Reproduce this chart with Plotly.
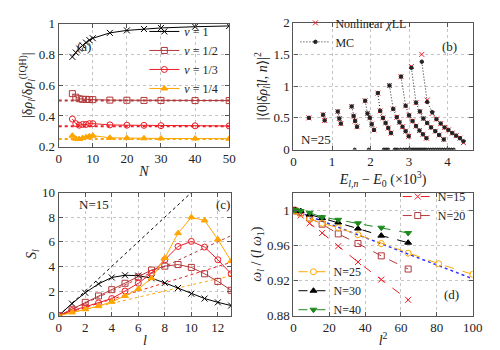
import plotly.graph_objects as go

FONT = "Liberation Serif, DejaVu Serif, serif"

# ---------------- panel (a): density ratio vs system size N
N_sizes = [4, 5, 6, 7, 8, 9, 10, 15, 20, 25, 30, 40, 50]
ratio_nu1 = [0.784, 0.812, 0.838, 0.858, 0.877, 0.893, 0.905, 0.940, 0.956, 0.965, 0.972, 0.980, 0.985]
ratio_nu2 = [0.545, 0.522, 0.512, 0.508, 0.508, 0.507, 0.506, 0.503, 0.502, 0.501, 0.501, 0.500, 0.500]
ratio_nu3 = [0.380, 0.350, 0.340, 0.345, 0.345, 0.350, 0.350, 0.342, 0.340, 0.339, 0.337, 0.336, 0.335]
ratio_nu4 = [0.272, 0.252, 0.250, 0.256, 0.262, 0.268, 0.272, 0.258, 0.256, 0.255, 0.254, 0.253, 0.252]
N_span = [0, 50]
level_nu2 = [0.5, 0.5]
level_nu3 = [0.333, 0.333]
level_nu4 = [0.25, 0.25]

# ---------------- panel (b): matrix elements vs excitation energy (N=25)
mc_E = [0.40, None,
        0.77, 0.81, None,
        1.15, 1.19, 1.23, None,
        1.51, 1.56, 1.60, 1.65, None,
        1.86, 1.92, 1.98, 2.03, 2.09, None,
        2.19, 2.25, 2.32, 2.39, 2.46, 2.53, None,
        2.49, 2.59, 2.68, 2.75, 2.83, 2.91, 2.99, None,
        2.79, 2.91, 3.00, 3.09, 3.18, 3.27, 3.36, 3.45, None,
        3.06, 3.18, 3.28, 3.37, 3.47, 3.57, 3.68, 3.78, 3.90, None,
        3.33, 3.47, 3.60, 3.71, 3.82, 3.92, 4.02, 4.12, 4.22, 4.32, 4.41]
mc_w = [0.50, None,
        0.55, 0.46, None,
        0.60, 0.49, 0.41, None,
        0.68, 0.53, 0.45, 0.36, None,
        0.77, 0.57, 0.50, 0.40, 0.31, None,
        0.89, 0.61, 0.50, 0.42, 0.34, 0.26, None,
        1.01, 0.64, 0.51, 0.43, 0.36, 0.29, 0.21, None,
        1.15, 0.69, 0.54, 0.45, 0.37, 0.30, 0.24, 0.18, None,
        1.29, 0.74, 0.60, 0.49, 0.42, 0.35, 0.29, 0.23, 0.16, None,
        1.385, 0.75, 0.59, 0.48, 0.41, 0.35, 0.31, 0.26, 0.22, 0.18, 0.13]
mc_zero_E = [1.59, 1.95, 2.34, 2.38, 2.42, 2.46, 2.62, 2.66, 2.70, 2.78, 2.86, 2.92,
             2.98, 3.04, 3.08, 3.12, 3.16, 3.20, 3.24, 3.28, 3.32, 3.36, 3.40, 3.44,
             3.50, 3.56, 3.62, 3.68, 3.74, 3.80, 3.86, 3.92, 3.98, 4.04, 4.10, 4.16]
mc_zero_w = [0.0] * len(mc_zero_E)
chi_E = [0.40, 0.77, 0.81, 1.15, 1.19, 1.23, 1.51, 1.56, 1.60, 1.65,
         1.86, 1.92, 1.98, 2.03, 2.09, 2.19, 2.25, 2.32, 2.39, 2.46, 2.53,
         2.49, 2.59, 2.68, 2.75, 2.83, 2.91, 2.99,
         2.79, 2.91, 3.00, 3.09, 3.18, 3.27, 3.36, 3.45,
         3.06, 3.18, 3.28, 3.37, 3.47, 3.57, 3.68, 3.78, 3.90,
         3.33, 3.47, 3.60, 3.71, 3.82, 3.92, 4.02, 4.12, 4.22, 4.32, 4.41]
chi_w = [0.50, 0.55, 0.46, 0.60, 0.49, 0.41, 0.68, 0.53, 0.45, 0.36,
         0.77, 0.57, 0.50, 0.40, 0.31, 0.89, 0.61, 0.50, 0.42, 0.34, 0.26,
         1.01, 0.64, 0.51, 0.43, 0.36, 0.29, 0.21,
         1.15, 0.69, 0.54, 0.45, 0.37, 0.30, 0.24, 0.18,
         1.31, 0.74, 0.60, 0.49, 0.42, 0.35, 0.29, 0.23, 0.16,
         1.50, 0.78, 0.57, 0.48, 0.41, 0.35, 0.31, 0.26, 0.22, 0.18, 0.11]

# ---------------- panel (c): entanglement S_l (N=15)
l_vals = [0, 1, 2, 3, 4, 5, 6, 7, 8, 9, 10, 11, 12, 13]
S_nu1 = [0, 0.98, 1.86, 2.58, 3.10, 3.28, 3.25, 3.04, 2.66, 2.25, 1.78, 1.39, 1.08, 0.82]
S_nu2 = [0, 0.52, 1.08, 1.60, 2.11, 2.63, 3.14, 3.70, 4.02, 4.15, 3.92, 3.40, 2.78, 2.06]
S_nu3 = [0, 0.41, 0.72, 1.03, 1.39, 2.00, 2.63, 3.45, 4.54, 5.62, 6.03, 5.57, 4.54, 3.40]
S_nu4 = [0, 0.26, 0.52, 0.77, 1.13, 1.60, 2.16, 3.04, 4.69, 6.70, 7.99, 7.73, 6.19, 4.43]
ref_l = [0, 13]
ref_nu1 = [0, 13]
ref_nu2 = [0, 6.5]
ref_nu3 = [0, 4.33]
ref_nu4 = [0, 3.25]

# ---------------- panel (d): normalised frequencies vs l^2
l2_short = [0, 1, 4, 9, 16, 25, 36, 49, 64]
l2_long = [0, 1, 4, 9, 16, 25, 36, 49, 64, 81, 100]
om_N15 = [1, 0.998, 0.994, 0.985, 0.974, 0.959, 0.941, 0.921, 0.898]
om_N20 = [1, 0.999, 0.997, 0.991, 0.984, 0.973, 0.962, 0.948, 0.933]
om_N25 = [1, 0.999, 0.996, 0.990, 0.985, 0.980, 0.972, 0.962, 0.951, 0.939, 0.927]
om_N30 = [1, 0.9998, 0.999, 0.995, 0.991, 0.986, 0.979, 0.971, 0.963]
om_N40 = [1, 0.9999, 0.999, 0.997, 0.992, 0.989, 0.985, 0.980, 0.974]
fit_l2 = [0, 100]
fit_om = [1.0, 0.922]

BLACK = "#000000"
DARKRED = "#b3393b"
RED = "#ee1c25"
ORANGE = "#ffa500"
GREEN = "#1e8a1e"
BLUE = "#3333ff"
TEXT = "#222222"

traces = []


def line(x, y, color, ax, name=None, marker=None, msize=6, dash="solid", width=1,
         mode="lines+markers", legend=None, show=False):
    mk = dict(symbol=marker or "circle", size=msize, color=color,
              line=dict(color=color, width=1))
    return go.Scatter(x=x, y=y, mode=mode, name=name, xaxis="x" + ax, yaxis="y" + ax,
                      line=dict(color=color, width=width, dash=dash), marker=mk,
                      showlegend=show, legend=legend, cliponaxis=True)


# panel (a)
traces += [
    line(N_span, level_nu2, DARKRED, "", mode="lines", dash="3px,3px", width=2),
    line(N_span, level_nu3, RED, "", mode="lines", dash="3px,3px", width=2),
    line(N_span, level_nu4, ORANGE, "", mode="lines", dash="3px,3px", width=2),
    line(N_sizes, ratio_nu1, BLACK, "", "<i>ν</i> = 1", "x-thin", 6, legend="legend", show=True),
    line(N_sizes, ratio_nu2, DARKRED, "", "<i>ν</i> = 1/2", "square-open", 6, legend="legend", show=True),
    line(N_sizes, ratio_nu3, RED, "", "<i>ν</i> = 1/3", "circle-open", 6, legend="legend", show=True),
    line(N_sizes, ratio_nu4, ORANGE, "", "<i>ν</i> = 1/4", "triangle-up", 6, legend="legend", show=True),
]

# panel (b)
traces += [
    line(chi_E, chi_w, RED, "2", "Nonlinear <i>χ</i>LL", "x-thin", 5, mode="markers",
         legend="legend2", show=True),
    line(mc_E, mc_w, TEXT, "2", "MC", "circle", 3.5, dash="1px,2px", width=1,
         legend="legend2", show=True),
    line(mc_zero_E, mc_zero_w, TEXT, "2", mode="markers", marker="circle", msize=3),
]

# panel (c)
traces += [
    line(ref_l, ref_nu1, BLACK, "3", mode="lines", dash="dot", width=1),
    line(ref_l, ref_nu2, DARKRED, "3", mode="lines", dash="dot", width=1),
    line(ref_l, ref_nu3, RED, "3", mode="lines", dash="dot", width=1),
    line(ref_l, ref_nu4, ORANGE, "3", mode="lines", dash="dot", width=1),
    line(l_vals, S_nu1, BLACK, "3", marker="x-thin", msize=6),
    line(l_vals, S_nu2, DARKRED, "3", marker="square-open", msize=6),
    line(l_vals, S_nu3, RED, "3", marker="circle-open", msize=6),
    line(l_vals, S_nu4, ORANGE, "3", marker="triangle-up", msize=6),
]

# panel (d)
traces += [
    line(fit_l2, fit_om, BLUE, "4", mode="lines", dash="dot", width=1.5),
    line(l2_short, om_N15, RED, "4", "N=15", "x-thin", 6, dash="dash", legend="legend3", show=True),
    line(l2_short, om_N20, DARKRED, "4", "N=20", "square-open", 6, dash="dash", legend="legend3", show=True),
    line(l2_long, om_N25, ORANGE, "4", "N=25", "circle-open", 6, dash="dash", legend="legend4", show=True),
    line(l2_short, om_N30, BLACK, "4", "N=30", "triangle-up", 6, dash="dash", legend="legend4", show=True),
    line(l2_short, om_N40, GREEN, "4", "N=40", "triangle-down", 6, dash="dash", legend="legend4", show=True),
]

fig = go.Figure(data=traces)

W, H = 500, 350


def px(x):
    return x / W


def py(y):
    return 1 - y / H


def axis(domain, rng, dtick, title, anchor, standoff=2):
    return dict(domain=domain, range=rng, dtick=dtick, tick0=rng[0], anchor=anchor,
                showgrid=True, gridcolor="#c4c4c4", griddash="dot", gridwidth=1,
                zeroline=False, showline=True, linecolor="#555555", linewidth=1.2,
                mirror="allticks", ticks="inside", ticklen=4, tickcolor="#555555",
                tickfont=dict(family=FONT, size=13, color=TEXT),
                title=dict(text=title, font=dict(family=FONT, size=14, color=TEXT), standoff=standoff))


legend_base = dict(bgcolor="rgba(0,0,0,0)", borderwidth=0, font=dict(family=FONT, size=12, color=TEXT),
                   tracegroupgap=0, itemwidth=30)

fig.update_layout(
    width=W, height=H,
    margin=dict(l=0, r=0, t=0, b=0),
    paper_bgcolor="white", plot_bgcolor="white",
    font=dict(family=FONT, color=TEXT),
    xaxis=axis([px(49), px(224)], [0, 50], 10, "<i>N</i>", "y", standoff=0),
    yaxis=axis([py(137), py(8)], [0.2, 1.0], 0.2,
               "|δ<i>ρ<sub>l</sub></i>/δ<i>ρ<sub>l</sub></i><sup>(IQH)</sup>|", "x"),
    xaxis2=axis([px(290), px(474)], [0, 4.65], 1,
                "<i>E<sub>l,n</sub></i> − <i>E</i><sub>0</sub> (×10<sup>3</sup>)", "y2", standoff=0),
    yaxis2=axis([py(140), py(7)], [0, 2], 0.5,
                "|⟨0|δ<i>ρ̂<sub>l</sub></i>|<i>l</i>, <i>n</i>⟩|<sup>2</sup>", "x2"),
    xaxis3=axis([px(49), px(226)], [0, 13], 2, "<i>l</i>", "y3", standoff=0),
    yaxis3=axis([py(314), py(185)], [0, 10], 2, "<i>S<sub>l</sub></i>", "x3"),
    xaxis4=axis([px(290), px(474)], [0, 100], 20, "<i>l</i><sup>2</sup>", "y4", standoff=0),
    yaxis4=axis([py(314), py(185)], [0.88, 1.02], 0.04,
                "<i>ω<sub>l</sub></i> / (<i>l ω</i><sub>1</sub>)", "x4"),
    legend=dict(legend_base, x=px(218), y=py(1), xanchor="right", yanchor="top"),
    legend2=dict(legend_base, x=px(292), y=py(-8), xanchor="left", yanchor="top"),
    legend3=dict(legend_base, x=px(472), y=py(174), xanchor="right", yanchor="top"),
    legend4=dict(legend_base, x=px(290), y=py(323), xanchor="left", yanchor="bottom"),
)

labels = [
    ("(a)", 66, 22), ("(b)", 460, 22), ("(c)", 218, 198), ("(d)", 462, 302),
    ("N=25", 313, 129), ("N=15", 68, 198),
]
for txt, x, y in labels:
    fig.add_annotation(text=txt, x=px(x), y=py(y), xref="paper", yref="paper",
                       showarrow=False, font=dict(family=FONT, size=13, color=TEXT))

fig.write_html("out.html")
